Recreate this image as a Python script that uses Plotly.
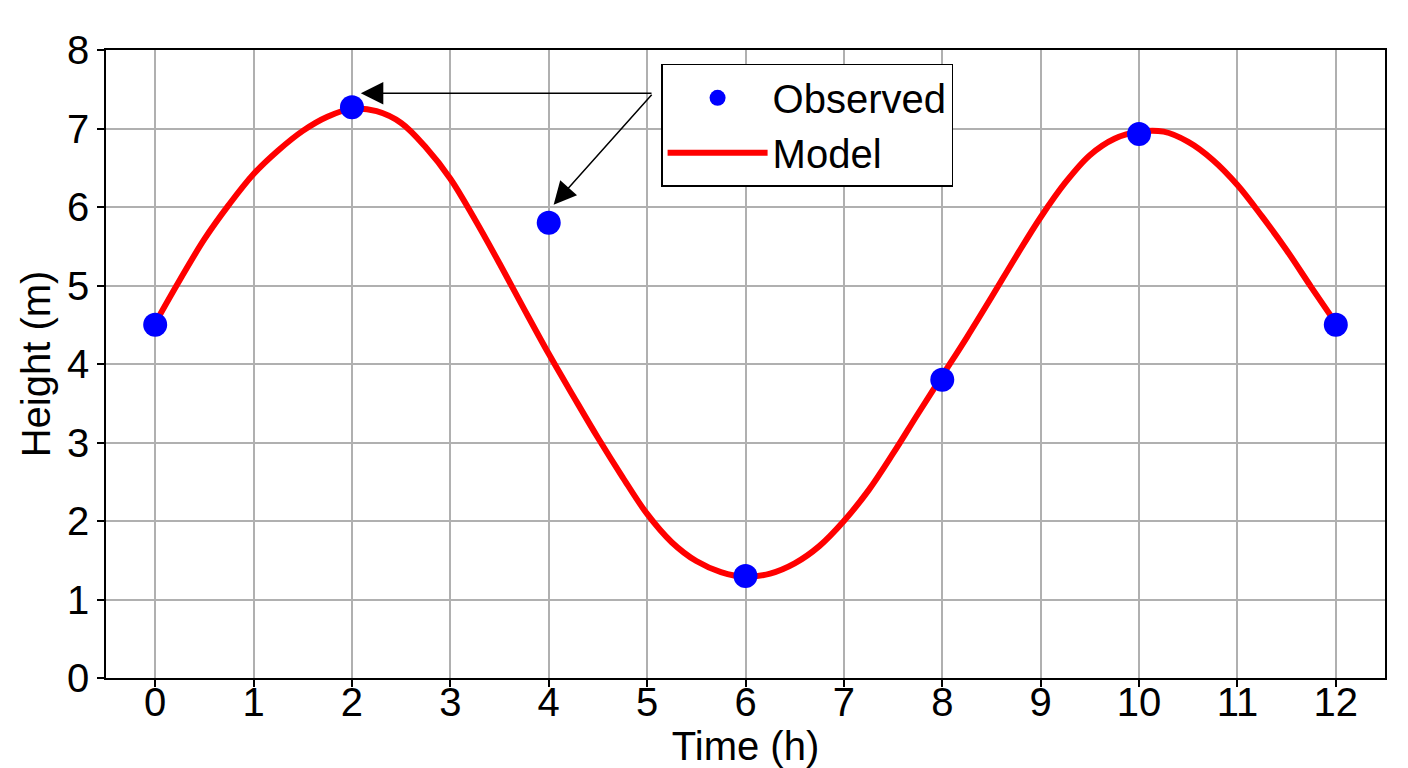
import plotly.graph_objects as go

# observed tide heights
obs_time = [0, 2, 4, 6, 8, 10, 12]
obs_height = [4.5, 7.27, 5.8, 1.3, 3.8, 6.93, 4.5]

# model curve, every quarter hour
model_time = [0, 0.25, 0.5, 0.75, 1, 1.25, 1.5, 1.75, 2, 2.25, 2.5, 2.75,
              3, 3.25, 3.5, 3.75, 4, 4.25, 4.5, 4.75, 5, 5.25, 5.5, 5.75,
              6, 6.25, 6.5, 6.75, 7, 7.25, 7.5, 7.75, 8, 8.25, 8.5, 8.75,
              9, 9.25, 9.5, 9.75, 10, 10.25, 10.5, 10.75, 11, 11.25, 11.5, 11.75, 12]
model_height = [4.52, 5.07, 5.59, 6.03, 6.42, 6.72, 6.97, 7.15, 7.25, 7.22, 7.07, 6.76,
                6.36, 5.84, 5.28, 4.7, 4.13, 3.59, 3.06, 2.56, 2.09, 1.73, 1.49, 1.35,
                1.29, 1.33, 1.46, 1.68, 2.0, 2.39, 2.86, 3.36, 3.85, 4.34, 4.85, 5.37,
                5.87, 6.31, 6.66, 6.87, 6.96, 6.96, 6.83, 6.6, 6.28, 5.88, 5.45, 4.98, 4.52]

x_ticks = list(range(0, 13))
y_ticks = list(range(0, 9))

# arrow tail and the two heads (data units)
arrow_tail = (5.06, 7.45)
arrow_heads = [(2.09, 7.45), (4.05, 6.03)]

font = "Liberation Sans, Arial, sans-serif"
fsize = 40

fig = go.Figure()
fig.add_trace(go.Scatter(
    x=model_time, y=model_height,
    mode='lines',
    line=dict(color='#ff0000', width=6, shape='spline', smoothing=1),
    name='Model',
    legendrank=2
))
fig.add_trace(go.Scatter(
    x=obs_time, y=obs_height,
    mode='markers',
    marker=dict(color='#0000ff', size=24),
    name='Observed',
    legendrank=1
))

for hx, hy in arrow_heads:
    fig.add_annotation(
        x=hx, y=hy, ax=arrow_tail[0], ay=arrow_tail[1],
        xref='x', yref='y', axref='x', ayref='y',
        text='', showarrow=True,
        arrowhead=2, arrowsize=3, arrowwidth=1.5, arrowcolor='black', standoff=0
    )

axis_style = dict(
    showgrid=True, gridcolor='#b0b0b0', gridwidth=1.5,
    showline=True, linecolor='black', linewidth=1.5, mirror=True,
    ticks='outside', ticklen=7, tickwidth=1.5, tickcolor='black',
    tickfont=dict(size=fsize, color='black', family=font),
    zeroline=False, automargin=False,
)

fig.update_layout(
    width=1392, height=760,
    margin=dict(l=98, r=15, t=42, b=90),
    paper_bgcolor='white', plot_bgcolor='white',
    font=dict(family=font, color='black'),
    xaxis=dict(range=[-0.5, 12.5], tickvals=x_ticks, ticklabelstandoff=-19,
               title=dict(text='Time (h)', font=dict(size=fsize), standoff=0),
               **axis_style),
    yaxis=dict(range=[0, 8], tickvals=y_ticks,
               title=dict(text='Height (m)', font=dict(size=fsize), standoff=4),
               **axis_style),
    legend=dict(x=0.434, y=0.978, xanchor='left', yanchor='top',
                bgcolor='white', bordercolor='black', borderwidth=1.5,
                font=dict(size=fsize, family=font), itemwidth=100),
    showlegend=True,
)

fig.write_html("out.html")
